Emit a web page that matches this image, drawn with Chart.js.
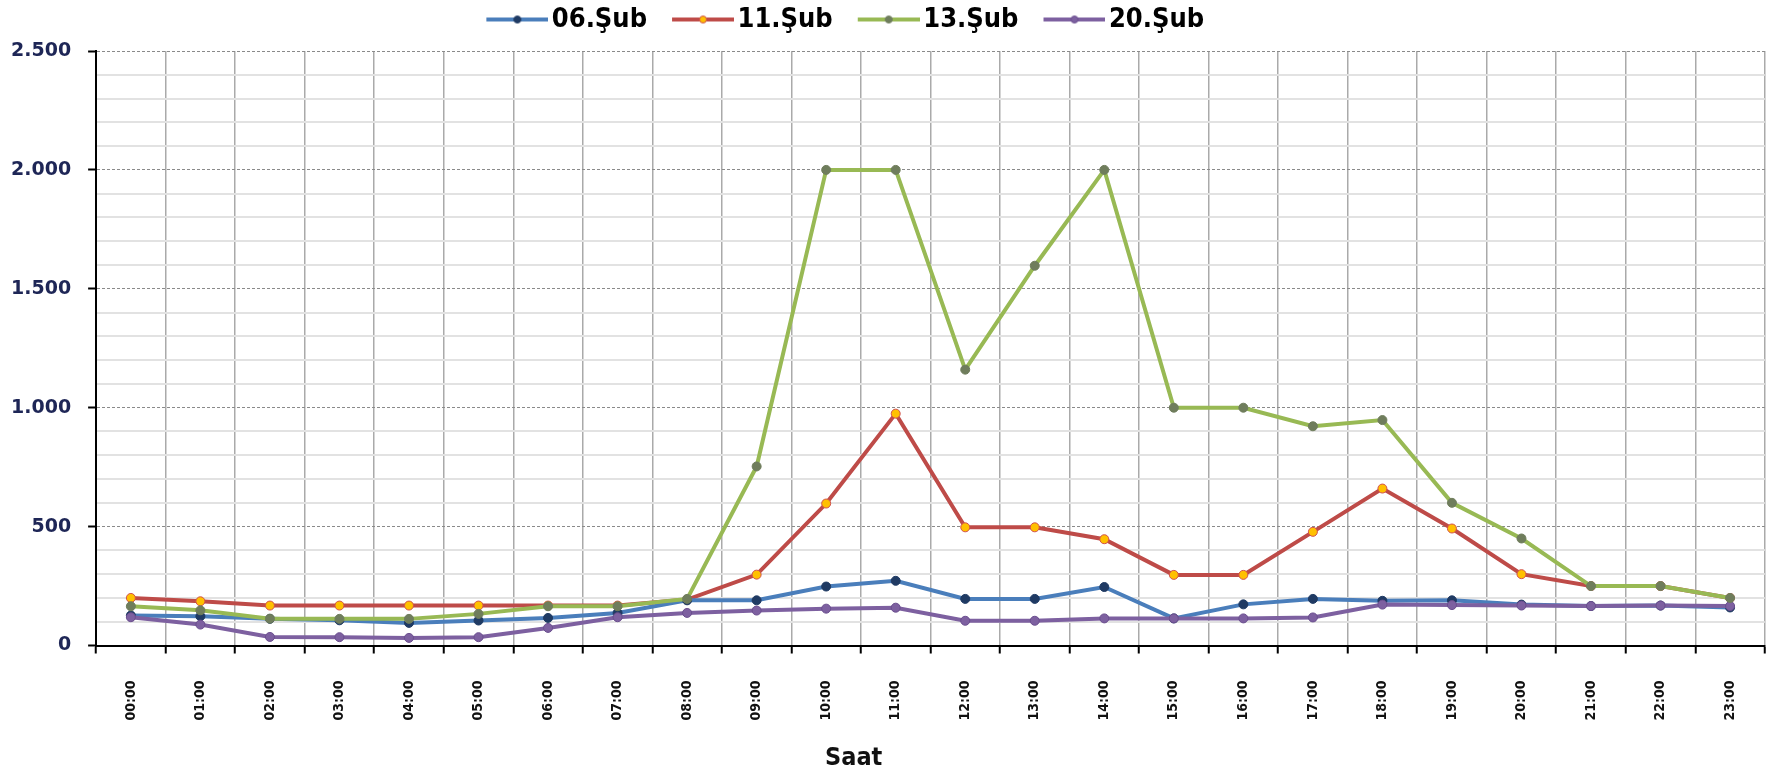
<!DOCTYPE html>
<html>
<head>
<meta charset="utf-8">
<script src="https://cdn.jsdelivr.net/npm/chart.js"></script>
<style>
  body { margin: 0; background: #fff; }
</style>
</head>
<body>
<canvas id="chart" width="1774" height="777"></canvas>
<script>
// hours on the x axis
const hours = ['00:00', '01:00', '02:00', '03:00', '04:00', '05:00', '06:00', '07:00',
    '08:00', '09:00', '10:00', '11:00', '12:00', '13:00', '14:00', '15:00',
    '16:00', '17:00', '18:00', '19:00', '20:00', '21:00', '22:00', '23:00'];

// values
const sub06 = [126, 123, 112, 106, 95, 105, 116, 137, 190, 190, 248, 272,
    196, 196, 246, 114, 173, 196, 188, 190, 172, 166, 168, 160];
const sub11 = [200, 186, 168, 168, 168, 168, 168, 168, 193, 298, 597, 975,
    497, 497, 447, 297, 297, 478, 660, 492, 300, 250, 250, 200];
const sub13 = [165, 148, 113, 112, 112, 133, 165, 165, 196, 753, 2000, 2000,
    1160, 1597, 2000, 1000, 1000, 922, 948, 600, 450, 250, 250, 200];
const sub20 = [119, 88, 36, 35, 32, 35, 74, 119, 137, 147, 155, 159,
    104, 104, 114, 114, 114, 118, 172, 170, 168, 166, 168, 166];

const seriesNames = ['06.Şub', '11.Şub', '13.Şub', '20.Şub'];
const yTicks = [0, 500, 1000, 1500, 2000, 2500];
const xTitle = 'Saat';

const lineColors = ['#4A7EBB', '#BE4B48', '#98B954', '#7D60A0'];
const pointFills = ['#1F3A63', '#FFC000', '#6F7D5C', '#7D60A0'];
const pointBorders = ['#1F3A63', '#D0504D', '#6F7D5C', '#6A4E8E'];

// legend picture: a line with a dot, drawn a bit wider than the legend box
// so the gap before the text stays small
function legendIcon(i) {
    const c = document.createElement('canvas');
    c.width = 91;
    c.height = 12;
    const g = c.getContext('2d');
    g.strokeStyle = lineColors[i];
    g.lineWidth = 4;
    g.beginPath();
    g.moveTo(29, 6);
    g.lineTo(91, 6);
    g.stroke();
    g.fillStyle = pointFills[i];
    g.strokeStyle = pointBorders[i];
    g.lineWidth = 1;
    g.beginPath();
    g.arc(60, 6, 3.5, 0, Math.PI * 2);
    g.fill();
    g.stroke();
    return c;
}

function thousands(v) {
    return String(v).replace(/\B(?=(\d{3})+(?!\d))/g, '.');
}

const allSeries = [sub06, sub11, sub13, sub20];

const datasets = allSeries.map((data, i) => ({
    label: seriesNames[i],
    data: data,
    borderColor: lineColors[i],
    backgroundColor: pointFills[i],
    borderWidth: 4,
    pointRadius: 4.5,
    pointBorderWidth: 1,
    pointBackgroundColor: pointFills[i],
    pointBorderColor: pointBorders[i],
    tension: 0,
    fill: false,
    order: i === 2 ? 0 : (i === 3 ? 1 : 2)
}));

const icons = [0, 1, 2, 3].map(legendIcon);
const blankIcon = document.createElement('canvas');
blankIcon.width = 1;
blankIcon.height = 1;

// a bit more room under the legend
const legendGap = {
    id: 'legendGap',
    beforeInit(chart) {
        const fit = chart.legend.fit;
        chart.legend.fit = function () {
            fit.bind(chart.legend)();
            this.height += 8;
        };
    }
};

// the axis title sits left of centre in the original
const titlePlugin = {
    id: 'saatTitle',
    afterDraw(chart) {
        const g = chart.ctx;
        const a = chart.chartArea;
        g.save();
        g.font = 'bold 25px "DejaVu Sans Condensed"';
        g.fillStyle = '#111';
        g.textAlign = 'center';
        g.textBaseline = 'middle';
        g.fillText(xTitle, a.left + a.width * 0.454, chart.height - 19);
        g.restore();
    }
};

new Chart(document.getElementById('chart'), {
    type: 'line',
    data: {
        labels: hours,
        datasets: datasets
    },
    plugins: [legendGap, titlePlugin],
    options: {
        responsive: false,
        animation: false,
        devicePixelRatio: 1,
        layout: {
            padding: {left: -6, right: 6, top: 0, bottom: 3}
        },
        plugins: {
            tooltip: {enabled: false},
            legend: {
                position: 'top',
                labels: {
                    usePointStyle: true,
                    pointStyleWidth: 71,
                    padding: 6,
                    color: '#000',
                    font: {family: 'DejaVu Sans Condensed', size: 27, weight: 'bold'},
                    generateLabels: (chart) => {
                        const items = chart.data.datasets.map((ds, i) => ({
                            text: ds.label,
                            pointStyle: icons[i],
                            fillStyle: 'transparent',
                            strokeStyle: 'transparent',
                            lineWidth: 0,
                            fontColor: '#000',
                            datasetIndex: i,
                            hidden: false
                        }));
                        // empty slot to push the legend a little to the left
                        items.push({
                            text: '',
                            pointStyle: blankIcon,
                            fillStyle: 'transparent',
                            strokeStyle: 'transparent',
                            lineWidth: 0,
                            hidden: false
                        });
                        return items;
                    }
                }
            }
        },
        scales: {
            x: {
                offset: true,
                grid: {
                    offset: true,
                    color: '#AAAAAA',
                    lineWidth: 1.5,
                    tickColor: '#000',
                    tickLength: 8,
                    tickWidth: 2
                },
                border: {color: '#000', width: 2},
                ticks: {
                    minRotation: 90,
                    maxRotation: 90,
                    padding: 27,
                    color: '#111',
                    font: {family: 'DejaVu Sans Condensed', size: 14, weight: 'bold'}
                },
                title: {
                    display: true,
                    text: xTitle,
                    color: 'rgba(0,0,0,0)',
                    padding: {top: 0, bottom: 0},
                    font: {family: 'DejaVu Sans Condensed', size: 22, weight: 'bold'}
                }
            },
            y: {
                min: 0,
                max: 2500,
                ticks: {
                    stepSize: 100,
                    autoSkip: false,
                    padding: 17,
                    color: '#1E2656',
                    font: {family: 'DejaVu Sans', size: 19, weight: 'bold'},
                    callback: (v) => yTicks.includes(v) ? thousands(v) : ''
                },
                grid: {
                    color: (ctx) => ctx.tick && ctx.tick.value % 500 === 0 ? '#8A8A8A' : '#E2E2E2',
                    lineWidth: (ctx) => ctx.tick && ctx.tick.value % 500 === 0 ? 1 : 2,
                    tickColor: (ctx) => ctx.tick && ctx.tick.value % 500 === 0 ? '#000' : 'rgba(0,0,0,0)',
                    tickLength: 8,
                    tickWidth: 2
                },
                border: {
                    color: '#000',
                    width: 2,
                    dash: (ctx) => ctx.tick && ctx.tick.value % 500 === 0 && ctx.tick.value > 0 ? [3, 2] : []
                }
            }
        }
    }
});
</script>
</body>
</html>
